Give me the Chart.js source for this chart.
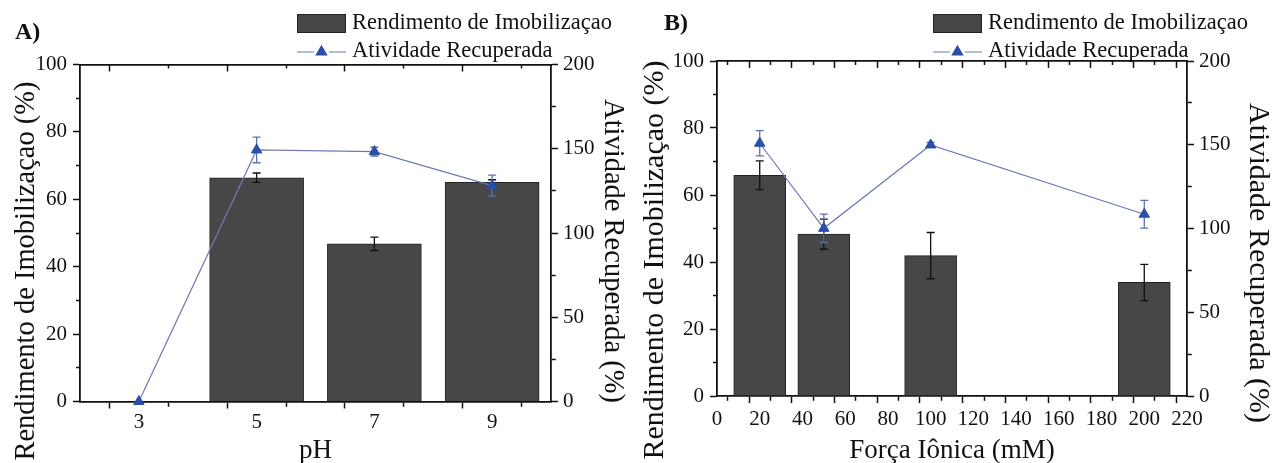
<!DOCTYPE html>
<html>
<head>
<meta charset="utf-8">
<script src="https://cdn.jsdelivr.net/npm/chart.js@4.4.1/dist/chart.umd.min.js"></script>
<style>
    body { margin: 0; background: #fff; }
    .painel { position: absolute; top: 0; width: 636px; height: 463px; }
</style>
</head>
<body>
<div class="painel" style="left:0"><canvas id="graficoPH"></canvas></div>
<div class="painel" style="left:636px"><canvas id="graficoForca"></canvas></div>
<script>
// A) efeito do pH
const valoresPH = [3, 5, 7, 9];
const rendimentoPH = [0, 66.4, 46.8, 65.0];
const erroRendimentoPH = [0, 1.4, 2.0, 0.8];
const atividadePH = [0, 149.3, 148.3, 128.1];
const erroAtividadePH = [0, 7.6, 2.6, 6.2];

// B) efeito da força iônica
const forcaIonica = [20, 50, 100, 200];
const rendimentoForca = [65.9, 48.3, 41.9, 33.9];
const erroRendimentoForca = [4.3, 4.5, 6.9, 5.4];
const atividadeForca = [150.9, 100.1, 149.9, 108.5];
const erroAtividadeForca = [7.5, 8.5, 1.5, 8.3];

// rótulos dos eixos
const rotulosRendimento = [0, 20, 40, 60, 80, 100];
const rotulosAtividade = [0, 50, 100, 150, 200];
const rotulosPH = [3, 5, 7, 9];
const rotulosForca = [0, 20, 40, 60, 80, 100, 120, 140, 160, 180, 200, 220];

Chart.defaults.font.family = "'Liberation Serif', 'Times New Roman', serif";
Chart.defaults.font.size = 21;
Chart.defaults.color = '#111';

const corEixo = '#111';
const corBarra = '#474747';
const corLinha = '#6c7bb4';
const corMarcador = '#2b4ea8';

function pontos(xs, ys) {
    return xs.map((x, i) => ({ x: x, y: ys[i] }));
}

// tick menor = sem rótulo; traço curto encostado no eixo
function tracoMenor(rotulos, deFora) {
    return (c) => {
        if (!c.tick || rotulos.includes(c.tick.value)) return [];
        return deFora ? [4, 3] : [4, 20];
    };
}

function desenharErros(chart, meta) {
    const ds = chart.data.datasets[meta.index];
    if (!ds.erros) return;
    const escala = chart.scales[meta.yAxisID];
    const ctx = chart.ctx;
    ctx.save();
    ctx.strokeStyle = ds.corErro;
    ctx.lineWidth = 1.3;
    meta.data.forEach((el, i) => {
        const e = ds.erros[i];
        if (!e) return;
        const v = ds.data[i].y;
        const topo = escala.getPixelForValue(v + e);
        const base = escala.getPixelForValue(v - e);
        ctx.beginPath();
        ctx.moveTo(el.x, topo); ctx.lineTo(el.x, base);
        ctx.moveTo(el.x - 4, topo); ctx.lineTo(el.x + 4, topo);
        ctx.moveTo(el.x - 4, base); ctx.lineTo(el.x + 4, base);
        ctx.stroke();
    });
    ctx.restore();
}

const barrasDeErro = {
    id: 'barrasDeErro',
    beforeDatasetDraw(chart, args) {
        if (args.meta.type === 'line') desenharErros(chart, args.meta);
    },
    afterDatasetDraw(chart, args) {
        if (args.meta.type !== 'line') desenharErros(chart, args.meta);
    }
};

// legenda, letra do painel e títulos dos eixos y
const extras = {
    id: 'extras',
    afterDraw(chart, args, opts) {
        const ctx = chart.ctx;
        const linha = chart.data.datasets[0];
        const barra = chart.data.datasets[1];
        const lx = opts.legendaX;
        ctx.save();
        ctx.fillStyle = corEixo;
        ctx.textBaseline = 'middle';
        ctx.font = "bold 24px 'Liberation Serif'";
        ctx.fillText(opts.painel, opts.painelX, opts.painelY);

        ctx.fillStyle = barra.backgroundColor;
        ctx.fillRect(lx, 14, 49, 19);
        ctx.strokeStyle = barra.borderColor;
        ctx.lineWidth = 1;
        ctx.strokeRect(lx + 0.5, 14.5, 48, 18);

        ctx.strokeStyle = linha.borderColor;
        ctx.lineWidth = 1.2;
        ctx.beginPath();
        ctx.moveTo(lx, 52); ctx.lineTo(lx + 17, 52);
        ctx.moveTo(lx + 32, 52); ctx.lineTo(lx + 49, 52);
        ctx.stroke();
        ctx.fillStyle = corMarcador;
        ctx.strokeStyle = corMarcador;
        Chart.helpers.drawPoint(ctx, { pointStyle: 'triangle', radius: 6, borderWidth: 1, rotation: 0 }, lx + 24.5, 52);

        ctx.fillStyle = corEixo;
        ctx.font = "22.5px 'Liberation Serif'";
        ctx.fillText(barra.label, lx + 55, 23);
        ctx.fillText(linha.label, lx + 55, 51);

        opts.titulos.forEach(t => {
            ctx.save();
            ctx.translate(t.x, t.y);
            ctx.rotate(t.rot);
            ctx.textAlign = 'center';
            ctx.font = t.tamanho + "px 'Liberation Serif'";
            ctx.fillText(t.texto, 0, 0);
            ctx.restore();
        });
        ctx.restore();
    }
};

function montarGrafico(id, cfg) {
    const grade = (rotulos, deFora, comprimento) => ({
        drawOnChartArea: false,
        tickLength: comprimento,
        tickColor: corEixo,
        tickWidth: 1.5,
        tickBorderDash: tracoMenor(rotulos, deFora),
        tickBorderDashOffset: deFora ? 4 : 0
    });
    const borda = { color: corEixo, width: 1.8 };

    new Chart(document.getElementById(id), {
        type: 'bar',
        data: {
            datasets: [
                {
                    type: 'line',
                    label: 'Atividade Recuperada',
                    data: pontos(cfg.x, cfg.atividade),
                    erros: cfg.erroAtividade,
                    corErro: '#5f71ad',
                    yAxisID: 'y1',
                    order: 0,
                    borderColor: corLinha,
                    borderWidth: 1.2,
                    pointStyle: 'triangle',
                    pointRadius: 6,
                    pointBackgroundColor: corMarcador,
                    pointBorderColor: corMarcador,
                    pointBorderWidth: 1,
                    clip: false
                },
                {
                    label: 'Rendimento de Imobilizaçao',
                    data: pontos(cfg.x, cfg.rendimento),
                    erros: cfg.erroRendimento,
                    corErro: '#111',
                    yAxisID: 'y',
                    order: 1,
                    backgroundColor: corBarra,
                    borderColor: '#222',
                    borderWidth: 1,
                    barThickness: cfg.larguraBarra
                }
            ]
        },
        options: {
            responsive: true,
            maintainAspectRatio: false,
            animation: false,
            layout: { padding: { top: cfg.topo, left: 0, right: 25, bottom: 0 } },
            scales: {
                x: {
                    type: 'linear',
                    position: 'bottom',
                    min: cfg.xMin,
                    max: cfg.xMax,
                    offset: false,
                    afterFit: (s) => { s.height = cfg.alturaX; },
                    ticks: {
                        stepSize: cfg.passoX,
                        autoSkip: false,
                        maxRotation: 0,
                        padding: cfg.padX,
                        callback: (v) => cfg.rotulosX.includes(v) ? v : ''
                    },
                    grid: grade(cfg.rotulosX, false, 7),
                    border: borda,
                    title: {
                        display: true,
                        text: cfg.tituloX,
                        font: { size: 27 },
                        padding: { top: 0, bottom: -4 }
                    }
                },
                x2: {
                    type: 'linear',
                    position: 'top',
                    min: cfg.xMin,
                    max: cfg.xMax,
                    offset: false,
                    afterFit: (s) => { s.height = 0; },
                    ticks: { display: false, stepSize: cfg.passoX, autoSkip: false },
                    grid: grade(cfg.rotulosX, true, -7),
                    border: borda
                },
                y: {
                    position: 'left',
                    min: 0,
                    max: 100,
                    afterFit: (s) => { s.width = cfg.larguraEsq; },
                    ticks: {
                        stepSize: 10,
                        autoSkip: false,
                        padding: 6,
                        callback: (v) => rotulosRendimento.includes(v) ? v : ''
                    },
                    grid: grade(rotulosRendimento, true, 7),
                    border: borda
                },
                y1: {
                    position: 'right',
                    min: 0,
                    max: 200,
                    afterFit: (s) => { s.width = 60; },
                    ticks: {
                        stepSize: 25,
                        autoSkip: false,
                        padding: 5,
                        callback: (v) => rotulosAtividade.includes(v) ? v : ''
                    },
                    grid: grade(rotulosAtividade, false, 7),
                    border: borda
                }
            },
            plugins: {
                legend: { display: false },
                tooltip: { enabled: false },
                extras: {
                    painel: cfg.painel,
                    painelX: cfg.painelX,
                    painelY: cfg.painelY,
                    legendaX: 297,
                    titulos: cfg.titulos
                }
            }
        },
        plugins: [barrasDeErro, extras]
    });
}

montarGrafico('graficoPH', {
    painel: 'A)', painelX: 15, painelY: 33,
    x: valoresPH, rendimento: rendimentoPH, erroRendimento: erroRendimentoPH,
    atividade: atividadePH, erroAtividade: erroAtividadePH,
    xMin: 2, xMax: 10, passoX: 1, rotulosX: rotulosPH, tituloX: 'pH',
    larguraBarra: 94, topo: 64.5, alturaX: 61.5, larguraEsq: 80, padX: 1,
    titulos: [
        { texto: 'Rendimento de Imobilizaçao (%)', x: 27, y: 271, rot: -Math.PI / 2, tamanho: 28.5 },
        { texto: 'Atividade Recuperada (%)', x: 612, y: 251, rot: Math.PI / 2, tamanho: 28.5 }
    ]
});

montarGrafico('graficoForca', {
    painel: 'B)', painelX: 28, painelY: 24,
    x: forcaIonica, rendimento: rendimentoForca, erroRendimento: erroRendimentoForca,
    atividade: atividadeForca, erroAtividade: erroAtividadeForca,
    xMin: 0, xMax: 220, passoX: 10, rotulosX: rotulosForca, tituloX: 'Força Iônica (mM)',
    larguraBarra: 52, topo: 61, alturaX: 67, larguraEsq: 81, padX: 4,
    titulos: [
        { texto: 'Rendimento de Imobilizaçao (%)', x: 19, y: 260, rot: -Math.PI / 2, tamanho: 30 },
        { texto: 'Atividade Recuperada (%)', x: 622, y: 263, rot: Math.PI / 2, tamanho: 30 }
    ]
});
</script>
</body>
</html>
